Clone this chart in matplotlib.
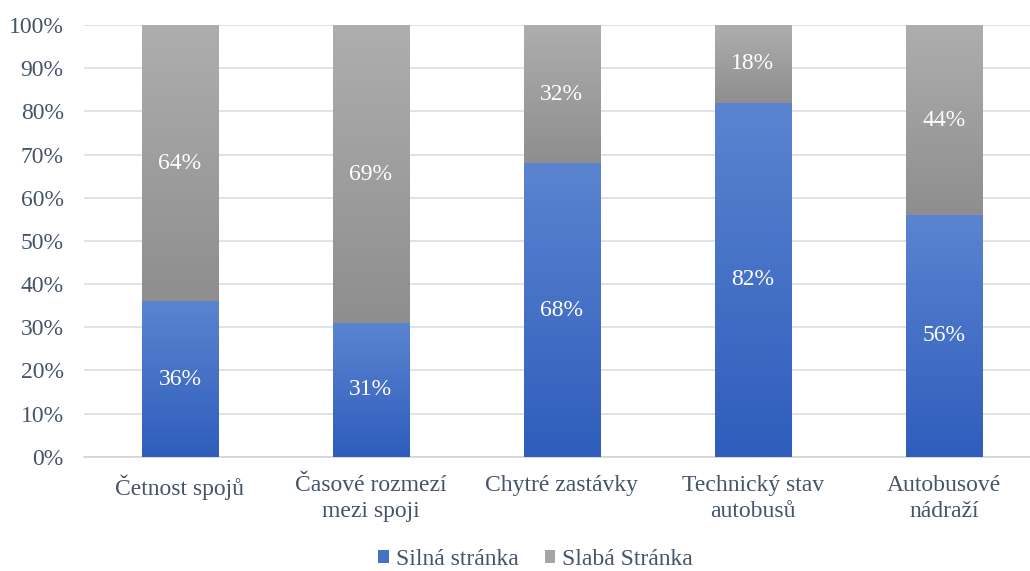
import numpy as np
import matplotlib.pyplot as plt
from matplotlib.colors import LinearSegmentedColormap
from matplotlib.patches import Patch

plt.rcParams['font.family'] = ['Liberation Serif', 'DejaVu Serif']

categories = ['Četnost spojů', 'Časové rozmezí\nmezi spoji', 'Chytré zastávky',
              'Technický stav\nautobusů', 'Autobusové\nnádraží']
silna = [36, 31, 68, 82, 56]
slaba = [64, 69, 32, 18, 44]
series_names = ['Silná stránka', 'Slabá Stránka']

text_color = '#44546A'
grid_color = '#D9DDE3'

fig = plt.figure(figsize=(10.30, 5.71), dpi=100)
ax = fig.add_axes([0.082, 0.2, 0.927, 0.756])

x = np.arange(len(categories))
width = 0.40
bars_a = ax.bar(x, silna, width, color='#4472C4', zorder=2)
bars_b = ax.bar(x, slaba, width, bottom=silna, color='#A5A5A5', zorder=2)

# gradient fill like the Excel original
blue_cmap = LinearSegmentedColormap.from_list('b', ['#2E5DBC', '#5B84D0'])
gray_cmap = LinearSegmentedColormap.from_list('g', ['#8E8E8E', '#AEAEAE'])
grad = np.linspace(0, 1, 256).reshape(-1, 1)
for bars, cmap in [(bars_a, blue_cmap), (bars_b, gray_cmap)]:
    for b in bars:
        x0, y0 = b.get_x(), b.get_y()
        im = ax.imshow(grad, cmap=cmap, origin='lower', aspect='auto',
                       extent=[x0, x0 + b.get_width(), y0, y0 + b.get_height()],
                       zorder=3)
        im.set_clip_path(b)

for i in range(len(categories)):
    ax.text(x[i], silna[i] / 2, f'{silna[i]}%', ha='center', va='center',
            color='white', fontsize=17, zorder=4)
    ax.text(x[i], silna[i] + slaba[i] / 2, f'{slaba[i]}%', ha='center', va='center',
            color='white', fontsize=17, zorder=4)

ax.set_xlim(-0.5, len(categories) - 0.5)
ax.set_ylim(0, 100)
ax.set_yticks(np.arange(0, 101, 10))
ax.set_yticklabels([f'{v}%' for v in range(0, 101, 10)])
ax.set_xticks(x)
ax.set_xticklabels(categories)
ax.tick_params(axis='both', length=0, labelsize=17, colors=text_color)
ax.tick_params(axis='y', pad=15)
ax.tick_params(axis='x', pad=13)
for lab in ax.get_xticklabels():
    lab.set_linespacing(1.35)

ax.grid(axis='y', color=grid_color, linewidth=1.2, zorder=0)
for s in ['top', 'right', 'left']:
    ax.spines[s].set_visible(False)
ax.spines['bottom'].set_color('#D0D4DA')
ax.spines['bottom'].set_linewidth(1.2)

handles = [Patch(facecolor='#4472C4', label=series_names[0]),
           Patch(facecolor='#A5A5A5', label=series_names[1])]
leg = fig.legend(handles=handles, loc='center', bbox_to_anchor=(0.52, 0.02), ncol=2,
                 frameon=False, fontsize=17, handlelength=0.45, handleheight=0.45,
                 handletextpad=0.3, columnspacing=1.1)
for t in leg.get_texts():
    t.set_color(text_color)

fig.savefig('out.png', dpi=100)
